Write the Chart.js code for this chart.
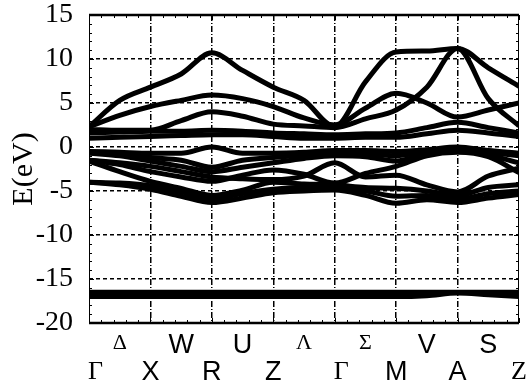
<!DOCTYPE html>
<html>
<head>
<meta charset="utf-8">
<script src="https://cdn.jsdelivr.net/npm/chart.js@4.4.0/dist/chart.umd.min.js"></script>
<style>
  html, body { margin: 0; padding: 0; background: #fff; }
</style>
</head>
<body>
<canvas id="bands" width="530" height="387"></canvas>
<script>
// k path: Γ-X-R-Z-Γ-M-A-Z, one unit per segment
const kPoints = [0, 0.5, 1, 1.5, 2, 2.5, 3, 3.5, 4, 4.5, 5, 5.5, 6, 6.5, 7];
const pointLabels = ['Γ', 'X', 'R', 'Z', 'Γ', 'M', 'A', 'Z'];
const lineLabels = ['Δ', 'W', 'U', 'Λ', 'Σ', 'V', 'S'];

// conduction bands (eV)
const c1 = [2.3, 5.3, 6.8, 8.3, 10.7, 8.7, 6.8, 5.3, 2.3, 7.4, 10.8, 10.9, 11.2, 9.0, 6.9];
const c2 = [2.3, 3.6, 4.6, 5.3, 5.9, 5.5, 4.6, 3.3, 2.5, 4.4, 6.1, 5.0, 3.4, 4.2, 5.0];
const c3 = [2.0, 1.9, 1.9, 3.0, 4.0, 3.5, 2.6, 2.4, 2.2, 3.2, 4.2, 6.8, 11.2, 5.5, 2.4];
const f1 = [1.6, 1.7, 1.8, 1.8, 1.9, 1.8, 1.6, 1.5, 1.4, 1.5, 1.6, 2.2, 2.8, 2.2, 1.6];
const f2 = [1.0, 1.1, 1.2, 1.3, 1.4, 1.4, 1.2, 1.0, 1.0, 1.1, 1.1, 1.5, 1.9, 1.6, 1.2];

// valence bands (eV)
const v1 = [-0.5, -0.6, -0.7, -0.7, 0.0, -0.7, -0.7, -0.6, -0.4, -0.4, -0.5, -0.3, 0.0, -0.4, -0.7];
const v2 = [-0.6, -0.8, -1.2, -1.5, -2.3, -1.5, -1.2, -0.9, -0.6, -0.7, -1.0, -0.5, -0.2, -0.6, -1.0];
const v3 = [-0.7, -1.0, -1.6, -2.2, -2.8, -2.3, -1.8, -1.3, -1.0, -1.1, -1.6, -0.7, -0.4, -0.9, -1.8];
const v4 = [-1.5, -1.8, -2.2, -2.8, -3.4, -3.6, -3.7, -3.3, -1.8, -3.4, -3.2, -4.3, -5.1, -3.3, -2.4];
const v5 = [-1.6, -2.8, -3.9, -4.7, -5.5, -4.9, -4.0, -4.2, -4.3, -4.6, -4.7, -5.0, -5.5, -4.6, -4.3];
const v6 = [-4.0, -4.3, -4.8, -5.6, -6.3, -5.8, -5.2, -5.0, -4.9, -5.5, -6.4, -6.0, -6.3, -5.8, -5.4];
const v7 = [-1.5, -2.0, -2.8, -3.4, -3.9, -3.2, -2.6, -3.1, -4.1, -3.0, -2.2, -1.0, -0.6, -1.1, -2.9];
const v8 = [-4.0, -4.1, -4.4, -5.1, -5.9, -5.3, -4.8, -4.6, -4.7, -5.0, -5.6, -5.5, -5.9, -5.3, -5.0];

// semicore bands (eV)
const d1 = [-16.5, -16.5, -16.5, -16.5, -16.5, -16.5, -16.5, -16.5, -16.5, -16.5, -16.5, -16.5, -16.5, -16.5, -16.5];
const d2 = [-17.0, -17.0, -17.0, -17.0, -17.0, -17.0, -17.0, -17.0, -17.0, -17.0, -17.0, -16.9, -16.6, -16.8, -17.0];

const bands = [c1, c2, c3, f1, f2, v1, v2, v3, v4, v5, v6, v7, v8, d1, d2];

const serif = 'Liberation Serif';
const sans = 'Liberation Sans';
const isGreek = (s) => /[ΓΔΛΣ]/.test(s);

// inward minor ticks and the frame
const frameTicks = {
  id: 'frameTicks',
  afterDatasetsDraw(chart) {
    const { ctx, chartArea: a, scales: { x, y } } = chart;
    ctx.save();
    ctx.strokeStyle = '#000';
    ctx.lineWidth = 1;
    ctx.beginPath();
    for (let v = -20; v <= 15; v++) {
      const py = Math.round(y.getPixelForValue(v)) + 0.5;
      const len = v % 5 === 0 ? 5 : 3;
      ctx.moveTo(a.left, py);
      ctx.lineTo(a.left + len, py);
      ctx.moveTo(a.right, py);
      ctx.lineTo(a.right - len, py);
    }
    for (let i = 0; i <= 35; i++) {
      const px = Math.round(x.getPixelForValue(i / 5)) + 0.5;
      const len = i % 5 === 0 ? 5 : 3;
      ctx.moveTo(px, a.bottom);
      ctx.lineTo(px, a.bottom - len);
      ctx.moveTo(px, a.top);
      ctx.lineTo(px, a.top + len);
    }
    ctx.stroke();

    ctx.beginPath();
    ctx.moveTo(a.left + 0.5, a.top);
    ctx.lineTo(a.left + 0.5, a.bottom);
    ctx.moveTo(a.right - 0.5, a.top);
    ctx.lineTo(a.right - 0.5, a.bottom);
    ctx.stroke();

    ctx.lineWidth = 2.5;
    ctx.beginPath();
    ctx.moveTo(a.left, a.top);
    ctx.lineTo(a.right, a.top);
    ctx.moveTo(a.left, a.bottom);
    ctx.lineTo(a.right, a.bottom);
    ctx.stroke();
    ctx.restore();
  }
};

const edgeColor = (lo, hi) => (ctx) => {
  const v = ctx.tick ? ctx.tick.value : null;
  return v === lo || v === hi ? 'rgba(0,0,0,0)' : '#000';
};

new Chart(document.getElementById('bands'), {
  type: 'line',
  data: {
    datasets: bands.map((band) => ({
      data: band.map((e, i) => ({ x: kPoints[i], y: e })),
      borderColor: '#000',
      borderWidth: 5,
      pointRadius: 0,
      fill: false,
      cubicInterpolationMode: 'monotone'
    }))
  },
  options: {
    responsive: false,
    animation: false,
    devicePixelRatio: 1,
    layout: { padding: { left: 6, right: 11, top: 0, bottom: 1 } },
    plugins: { legend: { display: false }, tooltip: { enabled: false } },
    scales: {
      x: {
        type: 'linear',
        position: 'bottom',
        weight: 1,
        min: 0,
        max: 7,
        afterBuildTicks: (scale) => {
          scale.ticks = pointLabels.map((_, i) => ({ value: i }));
        },
        afterFit: (scale) => { scale.height = 28; },
        ticks: {
          autoSkip: false,
          maxRotation: 0,
          padding: 1,
          color: '#000',
          callback: (value, index) => (pointLabels[index] === 'Γ' ? '\u2002Γ' : pointLabels[index]),
          font: (ctx) => {
            const i = ctx.index;
            const useSerif = isGreek(pointLabels[i]) || i === pointLabels.length - 1;
            return { family: useSerif ? serif : sans, size: useSerif ? 26 : 27, lineHeight: 1 };
          }
        },
        grid: { color: edgeColor(0, 7), lineWidth: 1.5, drawTicks: false },
        border: { display: false, dash: [6, 2, 1, 2] }
      },
      x2: {
        type: 'linear',
        position: 'bottom',
        weight: 0,
        min: 0,
        max: 7,
        afterBuildTicks: (scale) => {
          scale.ticks = lineLabels.map((_, i) => ({ value: i + 0.5 }));
        },
        afterFit: (scale) => { scale.height = 35; },
        ticks: {
          autoSkip: false,
          maxRotation: 0,
          padding: 9,
          color: '#000',
          callback: (value, index) => lineLabels[index],
          font: (ctx) => {
            const useSerif = isGreek(lineLabels[ctx.index]);
            return { family: useSerif ? serif : sans, size: useSerif ? 22 : 27, lineHeight: 1 };
          }
        },
        grid: { display: false, drawTicks: false },
        border: { display: false }
      },
      y: {
        min: -20,
        max: 15,
        afterFit: (scale) => {
          scale.width = 83;
          scale.paddingTop = 15;
          scale.paddingBottom = 0;
        },
        ticks: {
          stepSize: 5,
          padding: 16,
          color: '#000',
          font: { family: serif, size: 28 }
        },
        grid: { color: edgeColor(-20, 15), lineWidth: 1.5, drawTicks: false },
        border: { display: false, dash: [4, 3] },
        title: {
          display: true,
          text: 'E(eV)',
          color: '#000',
          padding: 0,
          font: { family: serif, size: 30 }
        }
      }
    }
  },
  plugins: [frameTicks]
});
</script>
</body>
</html>
